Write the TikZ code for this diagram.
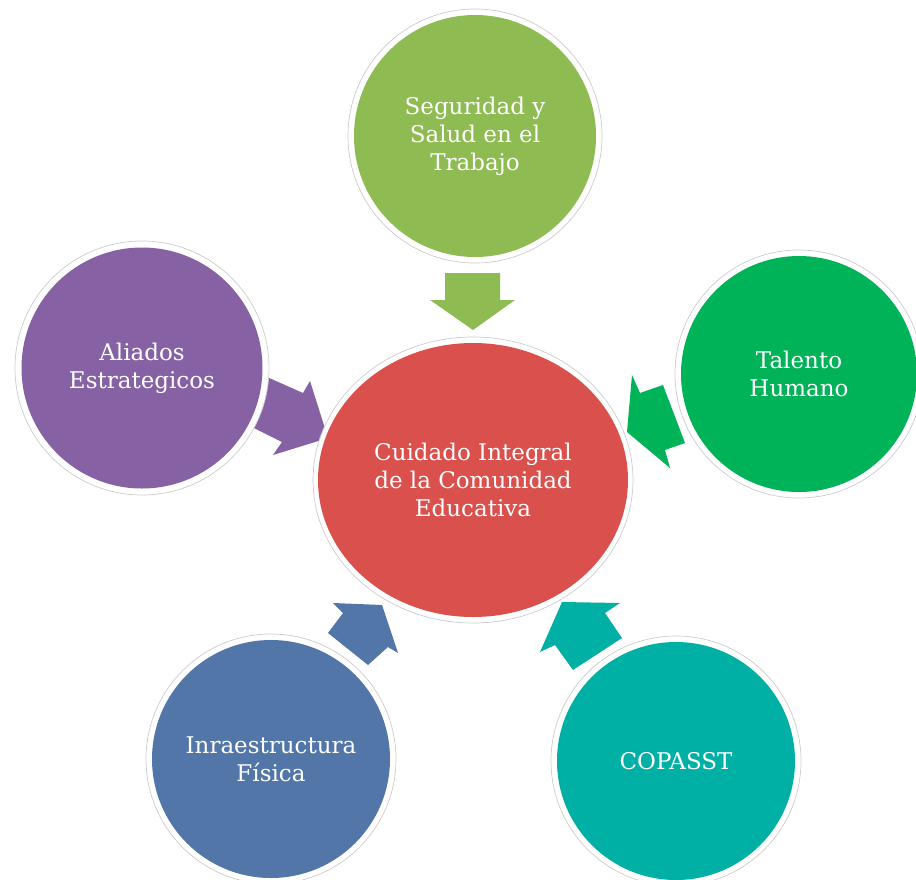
\documentclass[tikz,border=0pt]{standalone}
\usepackage{fontspec}
\setmainfont{DejaVu Serif}
\usetikzlibrary{shapes.geometric}
\definecolor{cRed}{RGB}{218,80,77}
\definecolor{cLime}{RGB}{143,187,83}
\definecolor{cPurple}{RGB}{134,98,164}
\definecolor{cGreen}{RGB}{0,178,88}
\definecolor{cBlue}{RGB}{82,118,168}
\definecolor{cTeal}{RGB}{0,176,164}
\begin{document}
\begin{tikzpicture}[x=1pt,y=-1pt,
  ring/.style={fill=white,draw=black!20,line width=0.7pt},
  disc/.style={circle,inner sep=0pt,text=white,align=center,font=\fontsize{23}{28}\selectfont},
  blockarrow/.style={line join=miter}]
\useasboundingbox (0,0) rectangle (916,879);
% centres
\coordinate (cC) at (473,480);
\coordinate (cT) at (475,136);
\coordinate (cP) at (142,368);
\coordinate (cG) at (799,374);
\coordinate (cB) at (271,759);
\coordinate (cQ) at (676,761);
% block arrows
\fill[blockarrow,cLime] (445,273) -- (445,300) -- (430,300) -- (473,330) -- (515,300) -- (500,300) -- (500,273) -- cycle;
\fill[blockarrow,cPurple] (258,373) -- (303,393) -- (310,381) -- (328,438) -- (273,455) -- (282,442) -- (244,423) -- cycle;
\fill[blockarrow,cGreen] (663,385) -- (640,393) -- (632,375) -- (627,432) -- (670,468) -- (665,450) -- (685,443) -- cycle;
\fill[blockarrow,cBlue] (328,633) -- (343,613) -- (333,603) -- (382,605) -- (398,653) -- (388,647) -- (368,665) -- cycle;
\fill[blockarrow,cTeal] (622,638) -- (605,613) -- (620,603) -- (562,602) -- (540,652) -- (555,645) -- (573,670) -- cycle;
% white rings
\draw[ring] (cC) ellipse[x radius=160pt,y radius=143pt];
\draw[ring] (cT) circle[radius=127pt];
\draw[ring] (cP) circle[radius=127pt];
\draw[ring] (cG) circle[radius=124pt];
\draw[ring] (cB) circle[radius=125pt];
\draw[ring] (cQ) circle[radius=125pt];
% discs
\node[disc,ellipse,fill=cRed,minimum width=310pt,minimum height=274pt] (centro) at (cC) {Cuidado Integral\\de la Comunidad\\Educativa};
\node[disc,fill=cLime,minimum size=242pt] (seg) at (cT) {Seguridad y\\Salud en el\\Trabajo};
\node[disc,fill=cPurple,minimum size=241pt] (ali) at (cP) {Aliados\\Estrategicos};
\node[disc,fill=cGreen,minimum size=236pt] (tal) at (cG) {Talento\\Humano};
\node[disc,fill=cBlue,minimum size=238pt] (inf) at (cB) {Inraestructura\\Física};
\node[disc,fill=cTeal,minimum size=238pt] (cop) at (cQ) {COPASST};
\end{tikzpicture}
\end{document}
